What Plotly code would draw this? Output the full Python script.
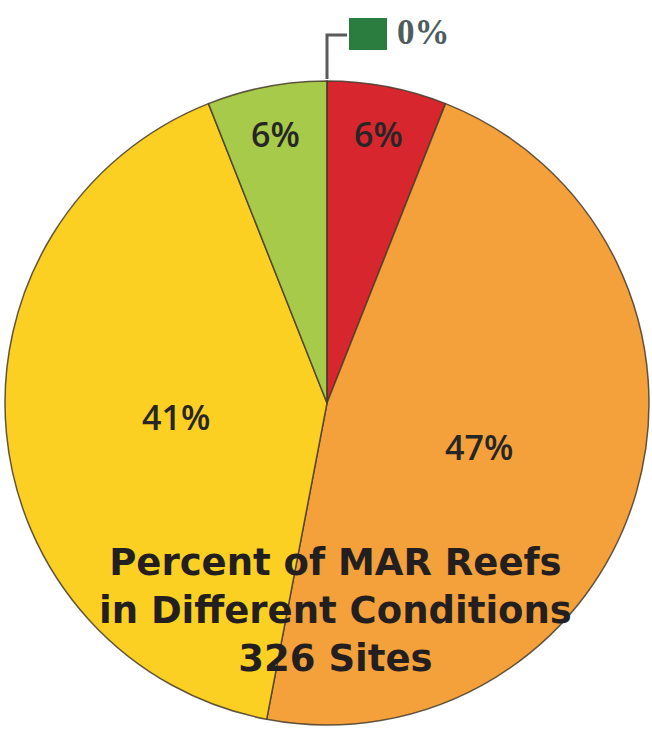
import math
import plotly.graph_objects as go

# ---- data ----
conditions = ["Critical", "Poor", "Fair", "Good", "Very Good"]
percents = [6, 47, 41, 6, 0]
colors = ["#D8262E", "#F5A13B", "#FCD023", "#A8CA4B", "#2B7D3F"]
label_radius = [0.85, 0.49, 0.47, 0.85, 1.0]
title_lines = ["Percent of MAR Reefs", "in Different Conditions", "326 Sites"]

W, H = 652, 733
# pie placement (pixels)
left_px, right_px, top_px, bottom_px = 5, 649, 79, 727
cx_px = (left_px + right_px) / 2
cy_px = (top_px + bottom_px) / 2
r_px = min(right_px - left_px, bottom_px - top_px) / 2

fig = go.Figure()
fig.add_trace(go.Pie(
    labels=conditions,
    values=percents,
    sort=False,
    direction="clockwise",
    rotation=0,
    marker=dict(colors=colors, line=dict(color="rgba(70,60,45,0.85)", width=1.5)),
    textinfo="none",
    hoverinfo="label+percent",
    showlegend=False,
    domain=dict(x=[left_px / W, right_px / W], y=[1 - bottom_px / H, 1 - top_px / H]),
))

annotations = []
shapes = []
total = sum(percents)
cum = 0
for name, v, rf in zip(conditions, percents, label_radius):
    if v > 0:
        mid = (cum + v / 2) / total * 2 * math.pi
        x_px = cx_px + rf * r_px * math.sin(mid)
        y_px = cy_px - rf * r_px * math.cos(mid)
        annotations.append(dict(
            x=x_px / W, y=1 - y_px / H, xref="paper", yref="paper",
            text=f"{v}%", showarrow=False, xanchor="center", yanchor="middle",
            font=dict(family="Open Sans", size=34, color="#262626", weight=600),
        ))
    else:
        # zero slice: leader line from its position on the rim up to a colour box
        ang = cum / total * 2 * math.pi
        sx = cx_px + r_px * math.sin(ang)
        sy = cy_px - r_px * math.cos(ang)
        ly = 35
        box_l, box_r, box_t, box_b = sx + 22, sx + 60, 18, 50
        shapes.append(dict(
            type="path", xref="paper", yref="paper",
            path=f"M {sx/W},{1-(sy-2)/H} L {sx/W},{1-ly/H} L {(box_l-2)/W},{1-ly/H}",
            line=dict(color="#5a5a5a", width=3),
        ))
        shapes.append(dict(
            type="rect", xref="paper", yref="paper",
            x0=box_l / W, x1=box_r / W, y0=1 - box_b / H, y1=1 - box_t / H,
            fillcolor=colors[conditions.index(name)], line=dict(width=0),
        ))
        annotations.append(dict(
            x=(box_r + 8) / W, y=1 - 33 / H, xref="paper", yref="paper",
            text=f"<b>{v}%</b>", showarrow=False, xanchor="left", yanchor="middle",
            font=dict(family="Liberation Serif", size=35, color="#4f5c5e"),
        ))
    cum += v

annotations.append(dict(
    x=335 / W, y=1 - 610 / H, xref="paper", yref="paper",
    text="<br>".join(f"<b>{t}</b>" for t in title_lines),
    showarrow=False, xanchor="center", yanchor="middle", align="center",
    font=dict(family="DejaVu Sans", size=37, color="#231F20"),
))

fig.update_layout(
    width=W, height=H,
    margin=dict(l=0, r=0, t=0, b=0),
    paper_bgcolor="white", plot_bgcolor="white",
    annotations=annotations, shapes=shapes,
)
fig.write_html("out.html")
